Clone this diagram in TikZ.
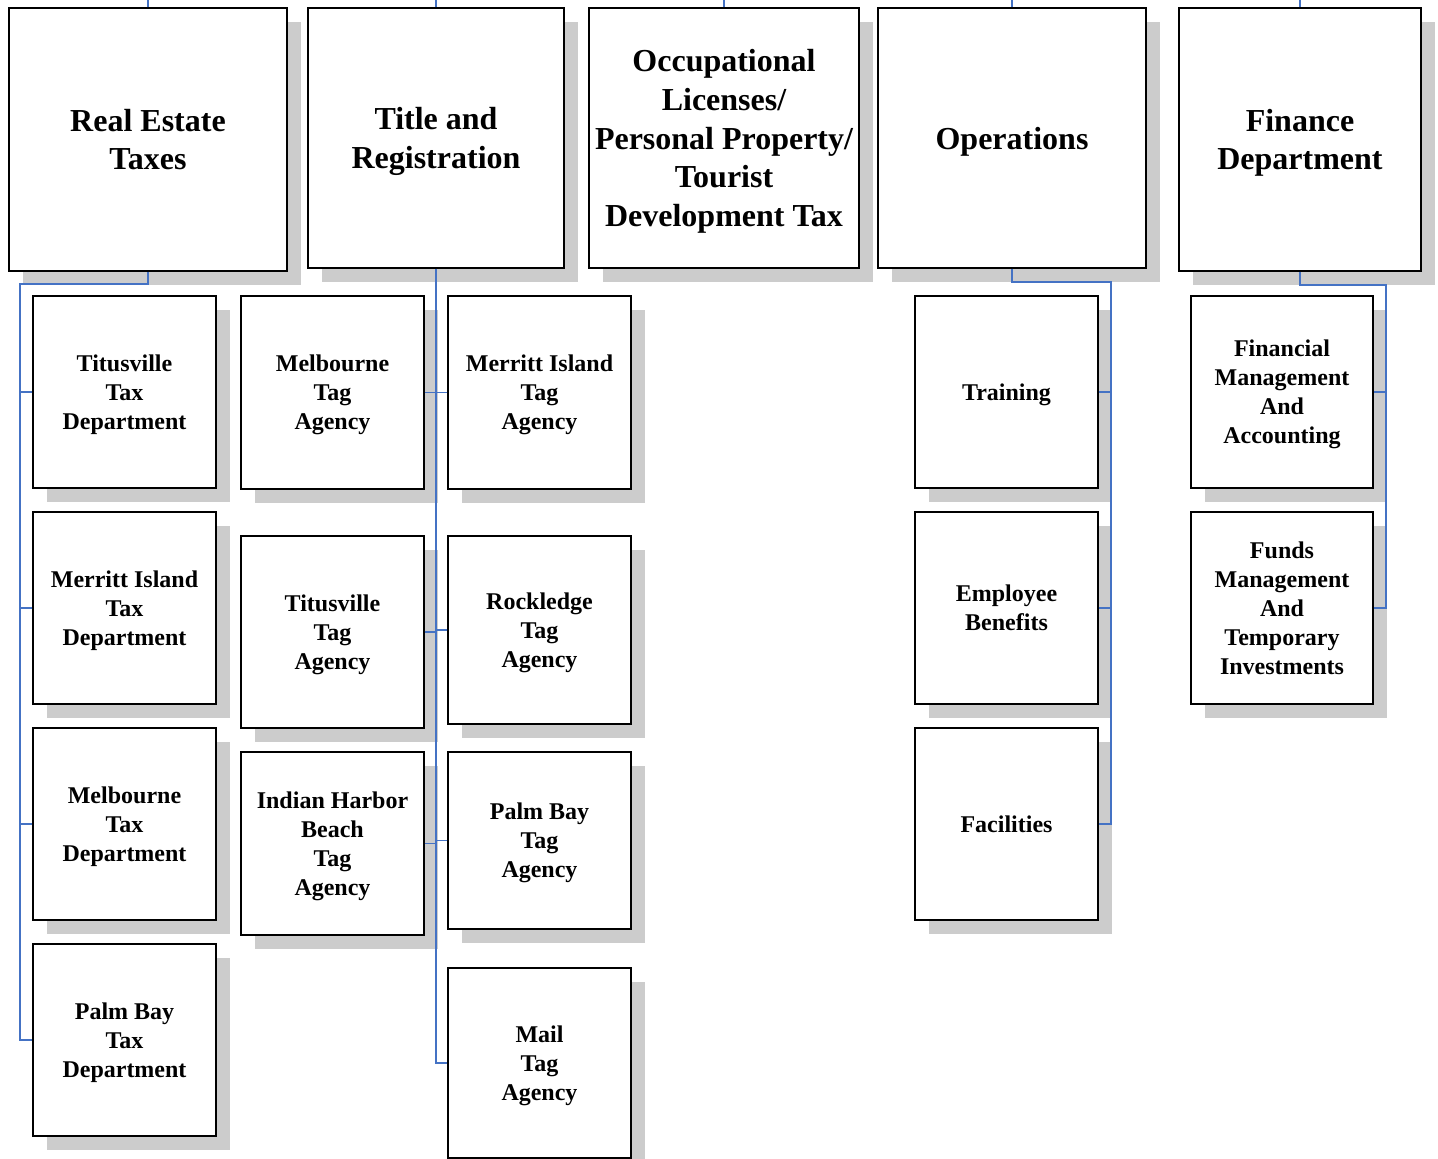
\documentclass[tikz,border=0pt]{standalone}
\usepackage{fontspec}
\setmainfont{Liberation Serif}
\usetikzlibrary{shadows}
\definecolor{linkblue}{RGB}{68,114,196}
\tikzset{
  boxsize/.style 2 args={minimum width=#1*0.75pt, minimum height=#2*0.75pt},
  unitbox/.style={draw, line width=1.1pt, fill=white, inner sep=0pt, align=center, text depth=0pt,
    drop shadow={shadow xshift=10.5pt, shadow yshift=-10.5pt, fill=black!20, opacity=1}},
  topbox/.style={unitbox, font=\bfseries\fontsize{24}{29}\selectfont},
  subbox/.style={unitbox, boxsize={183}{192}, font=\bfseries\fontsize{18}{21.75}\selectfont},
  link/.style={draw=linkblue, line width=1.4pt}
}
\begin{document}
\begin{tikzpicture}[x=0.75pt,y=0.75pt,yscale=-1,xscale=1]
\useasboundingbox (0,0) rectangle (1438,1159);

% Top row
\node[topbox, boxsize={278}{263}] (ret) at (148,139.5) {Real Estate\\Taxes};
\node[topbox, boxsize={256}{260}] (tr) at (436,138) {Title and\\Registration};
\node[topbox, boxsize={270}{260}] (ol) at (724,138) {Occupational\\Licenses/\\Personal Property/\\Tourist\\Development Tax};
\node[topbox, boxsize={268}{260}] (op) at (1012,138) {Operations};
\node[topbox, boxsize={242}{263}] (fd) at (1300,139.5) {Finance\\Department};

% Real Estate Taxes units
\node[subbox] (rt1) at (124.5,392) {Titusville\\Tax\\Department};
\node[subbox] (rt2) at (124.5,608) {Merritt Island\\Tax\\Department};
\node[subbox] (rt3) at (124.5,824) {Melbourne\\Tax\\Department};
\node[subbox] (rt4) at (124.5,1040) {Palm Bay\\Tax\\Department};

% Tag agencies
\node[subbox, boxsize={183}{193}] (ta1) at (332.5,392.5) {Melbourne\\Tag\\Agency};
\node[subbox] (ta2) at (332.5,632) {Titusville\\Tag\\Agency};
\node[subbox, boxsize={183}{183}] (ta3) at (332.5,843.5) {Indian Harbor\\Beach\\Tag\\Agency};
\node[subbox, boxsize={183}{193}] (ta4) at (539.5,392.5) {Merritt Island\\Tag\\Agency};
\node[subbox, boxsize={183}{188}] (ta5) at (539.5,630) {Rockledge\\Tag\\Agency};
\node[subbox, boxsize={183}{177}] (ta6) at (539.5,840.5) {Palm Bay\\Tag\\Agency};
\node[subbox, boxsize={183}{190}] (ta7) at (539.5,1063) {Mail\\Tag\\Agency};

% Operations units
\node[subbox] (of1) at (1006.5,392) {Training};
\node[subbox] (of2) at (1006.5,608) {Employee\\Benefits};
\node[subbox] (of3) at (1006.5,824) {Facilities};

% Finance units
\node[subbox, boxsize={182}{192}] (fm1) at (1282,392) {Financial\\Management\\And\\Accounting};
\node[subbox, boxsize={182}{192}] (fm2) at (1282,608) {Funds\\Management\\And\\Temporary\\Investments};

% Lines to the top edge
\foreach \n in {ret,tr,ol,op,fd}
  \draw[link] (\n.north) -- ++(0,-10);

% Real Estate Taxes
\draw[link] (ret.south) -- ++(0,12) -| ([xshift=-9pt]rt4.west) -- (rt4.west);
\foreach \n in {rt1,rt2,rt3}
  \draw[link] (\n.west) -- ++(-12,0);

% Title and Registration
\draw[link] (tr.south) -- (tr.south |- ta7.west) -- (ta7.west);
\foreach \n in {ta1,ta2,ta3}
  \draw[link] (\n.east) -- (\n.east -| tr.south);
\foreach \n in {ta4,ta5,ta6}
  \draw[link] (\n.west) -- (\n.west -| tr.south);

% Operations
\draw[link] (op.south) -- ++(0,13) -| ([xshift=9pt]of3.east) -- (of3.east);
\foreach \n in {of1,of2}
  \draw[link] (\n.east) -- ++(12,0);

% Finance Department
\draw[link] (fd.south) -- ++(0,13) -| ([xshift=9pt]fm2.east) -- (fm2.east);
\draw[link] (fm1.east) -- ++(12,0);

\end{tikzpicture}
\end{document}
